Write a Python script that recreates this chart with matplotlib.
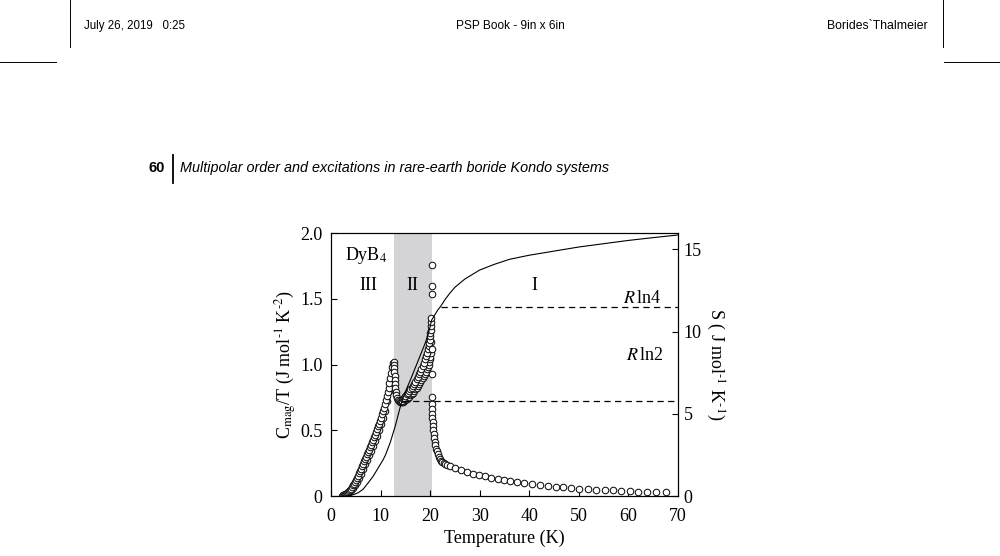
import matplotlib
matplotlib.use('Agg')
import matplotlib.pyplot as plt
from matplotlib.lines import Line2D

plt.rcParams['font.family'] = ['Liberation Serif', 'DejaVu Serif']
plt.rcParams['mathtext.fontset'] = 'stix'

# %% data
# C_mag/T open circles, rising part below the first transition (two runs)
t_rise = [2.2, 2.4, 2.6, 2.8, 3.0, 3.2, 3.4, 3.6, 3.8, 4.0, 4.2, 4.4, 4.6, 4.8,
          5.0, 5.2, 5.4, 5.6, 5.8, 6.0, 6.2, 6.4, 6.6, 6.8, 7.0, 7.2, 7.4, 7.6,
          7.8, 8.0, 8.2, 8.4, 8.6, 8.8, 9.0, 9.2, 9.4, 9.6, 9.8, 10.0, 10.2,
          10.4, 10.6, 10.8, 11.0, 11.2, 11.4, 11.6, 11.8, 12.0, 12.2, 12.4,
          12.55, 12.7]
c_rise = [0.003, 0.005, 0.008, 0.012, 0.017, 0.023, 0.030, 0.038, 0.047, 0.057,
          0.068, 0.080, 0.093, 0.107, 0.122, 0.138, 0.155, 0.173, 0.191, 0.209,
          0.227, 0.245, 0.263, 0.281, 0.299, 0.317, 0.335, 0.353, 0.371, 0.389,
          0.408, 0.427, 0.446, 0.466, 0.486, 0.507, 0.529, 0.551, 0.574, 0.597,
          0.621, 0.646, 0.672, 0.699, 0.727, 0.757, 0.789, 0.823, 0.859, 0.897,
          0.937, 0.978, 1.010, 1.020]
t_rise2 = [2.5, 2.9, 3.3, 3.7, 4.1, 4.5, 4.9, 5.3, 5.7, 6.1, 6.5, 6.9, 7.3, 7.7,
           8.1, 8.5, 8.9, 9.3, 9.7, 10.1, 10.5, 10.9, 11.3, 11.7, 12.1, 12.45]
c_rise2 = [0.004, 0.009, 0.018, 0.030, 0.046, 0.064, 0.086, 0.11, 0.14, 0.17,
           0.205, 0.24, 0.275, 0.31, 0.345, 0.38, 0.42, 0.46, 0.50, 0.545,
           0.595, 0.65, 0.72, 0.80, 0.89, 0.98]

# drop after the 12.7 K peak
t_drop = [12.75, 12.78, 12.8, 12.85, 12.9, 12.95, 13.0, 13.1, 13.2, 13.35,
          13.5, 13.7, 13.9, 14.1]
c_drop = [1.00, 0.97, 0.94, 0.91, 0.88, 0.85, 0.82, 0.79, 0.765, 0.745,
          0.73, 0.72, 0.715, 0.715]

# phase II, two chains of points
t_up = [14.25, 14.5, 14.75, 15.0, 15.25, 15.5, 15.75, 16.0, 16.25, 16.5,
        16.75, 17.0, 17.25, 17.5, 17.75, 18.0, 18.25, 18.5, 18.75, 19.0,
        19.2, 19.4, 19.55, 19.7, 19.8, 19.9, 20.0, 20.05, 20.1, 20.15, 20.2,
        20.25]
c_up = [0.725, 0.735, 0.748, 0.76, 0.772, 0.785, 0.797, 0.81, 0.825, 0.84,
        0.855, 0.87, 0.887, 0.905, 0.925, 0.945, 0.967, 0.99, 1.015, 1.04,
        1.065, 1.09, 1.115, 1.14, 1.165, 1.19, 1.215, 1.24, 1.265, 1.29, 1.32,
        1.35]
t_low = [14.25, 14.5, 14.75, 15.0, 15.25, 15.5, 15.75, 16.0, 16.25, 16.5,
         16.75, 17.0, 17.25, 17.5, 17.75, 18.0, 18.25, 18.5, 18.75, 19.0,
         19.2, 19.4, 19.55, 19.7, 19.8, 19.9, 20.0, 20.1, 20.2, 20.25]
c_low = [0.712, 0.718, 0.724, 0.73, 0.737, 0.745, 0.755, 0.765, 0.775, 0.785,
         0.797, 0.81, 0.822, 0.835, 0.85, 0.865, 0.88, 0.895, 0.912, 0.93,
         0.945, 0.965, 0.98, 1.0, 1.02, 1.04, 1.06, 1.085, 1.12, 1.17]

# around and above the 20.3 K transition
t_high = [20.3, 20.3, 20.3, 20.4, 20.4, 20.35, 20.35, 20.4, 20.4, 20.45, 20.5,
          20.55, 20.6, 20.7, 20.8, 20.9, 21.0, 21.15, 21.3, 21.5, 21.7, 21.9,
          22.1, 22.4, 22.7, 23.0, 23.4, 24.0, 25.0, 26.2, 27.4, 28.6, 29.8,
          31.0, 32.3, 33.6, 34.9, 36.2, 37.6, 39.0, 40.5, 42.1, 43.7, 45.3,
          46.9, 48.5, 50.1, 51.8, 53.5, 55.2, 56.9, 58.6, 60.3, 62.0, 63.7,
          65.5, 67.6]
c_high = [1.76, 1.60, 1.535, 1.12, 0.93, 0.75, 0.70, 0.66, 0.62, 0.59, 0.56,
          0.53, 0.50, 0.47, 0.44, 0.41, 0.385, 0.36, 0.34, 0.32, 0.30, 0.285,
          0.27, 0.26, 0.25, 0.245, 0.238, 0.232, 0.21, 0.195, 0.18, 0.17, 0.16,
          0.15, 0.14, 0.13, 0.12, 0.113, 0.107, 0.10, 0.09, 0.083, 0.077,
          0.071, 0.066, 0.061, 0.056, 0.052, 0.048, 0.045, 0.042, 0.039, 0.036,
          0.034, 0.032, 0.030, 0.028]

# entropy S (right axis), solid line
t_s = [2.8, 3.5, 4.5, 5.5, 6.5, 7.5, 8.5, 9.5, 10.5, 11.0, 12.0, 13.0, 14.0,
       14.3, 15.0, 16.0, 17.0, 18.0, 19.0, 19.6, 20.0, 20.3, 20.8, 21.5, 22.1,
       23.0, 24.0, 25.0, 27.0, 30.0, 33.0, 36.0, 40.0, 45.0, 50.0, 55.0, 60.0,
       65.0, 70.0]
s_val = [0.0, 0.02, 0.08, 0.2, 0.42, 0.8, 1.2, 1.7, 2.2, 2.5, 3.3, 4.3, 5.45,
         5.76, 6.35, 7.05, 7.8, 8.55, 9.3, 9.85, 10.3, 10.7, 10.95, 11.3, 11.53,
         11.95, 12.35, 12.7, 13.2, 13.75, 14.1, 14.4, 14.65, 14.9, 15.15, 15.35,
         15.55, 15.72, 15.88]

r_ln2 = 5.763
r_ln4 = 11.526
ln2_start = 14.3
ln4_start = 22.1
phase2 = (12.7, 20.3)

x_ticks = [0, 10, 20, 30, 40, 50, 60, 70]
x_labels = ['0', '10', '20', '30', '40', '50', '60', '70']
y_ticks = [0, 0.5, 1.0, 1.5, 2.0]
y_labels = ['0', '0.5', '1.0', '1.5', '2.0']
s_ticks = [0, 5, 10, 15]
s_labels = ['0', '5', '10', '15']

# %% figure
fig = plt.figure(figsize=(10, 5.56), dpi=100)

# page header
sans = ['Liberation Sans', 'DejaVu Sans']
fig.text(0.084, 0.953, 'July 26, 2019   0:25', family=sans, fontsize=8.3, va='center')
fig.text(0.510, 0.953, 'PSP Book - 9in x 6in', family=sans, fontsize=8.6, va='center', ha='center')
fig.text(0.928, 0.953, 'Borides`Thalmeier', family=sans, fontsize=8.8, va='center', ha='right')
for xl in (0.070, 0.943):
    fig.add_artist(Line2D([xl, xl], [1.0, 0.915], color='k', lw=0.7))
fig.add_artist(Line2D([0.0, 0.056], [0.888, 0.888], color='k', lw=0.7))
fig.add_artist(Line2D([0.944, 1.0], [0.888, 0.888], color='k', lw=0.7))
fig.text(0.165, 0.698, '60', family=sans, fontsize=10.5, weight='bold', va='center', ha='right')
fig.add_artist(Line2D([0.173, 0.173], [0.722, 0.670], color='k', lw=1.3))
fig.text(0.180, 0.698, 'Multipolar order and excitations in rare-earth boride Kondo systems',
         family=sans, fontsize=10.4, style='italic', va='center')

ax = fig.add_axes([0.331, 0.1079, 0.347, 0.4730])
ax2 = ax.twinx()

ax.axvspan(phase2[0], phase2[1], color='#d4d4d6', lw=0, zorder=0)

mk = dict(ls='none', marker='o', ms=4.7, mfc='white', mec='#111111', mew=0.75)
ax.plot(t_rise2, c_rise2, **mk)
ax.plot(t_rise, c_rise, **mk)
ax.plot(t_drop, c_drop, **mk)
ax.plot(t_low, c_low, **mk)
ax.plot(t_up, c_up, **mk)
ax.plot(t_high, c_high, **mk)

ax2.plot(t_s, s_val, color='k', lw=0.8)
ax2.plot([ln2_start, 70], [r_ln2, r_ln2], color='k', lw=0.9, ls=(0, (5, 3.5)))
ax2.plot([ln4_start, 70], [r_ln4, r_ln4], color='k', lw=0.9, ls=(0, (5, 3.5)))

ax.set_xlim(0, 70)
ax.set_ylim(0, 2.0)
ax2.set_ylim(0, 16)

ax.set_xticks(x_ticks)
ax.set_xticklabels(x_labels)
ax.set_yticks(y_ticks)
ax.set_yticklabels(y_labels)
ax2.set_yticks(s_ticks)
ax2.set_yticklabels(s_labels)

for a in (ax, ax2):
    a.tick_params(direction='in', length=4, width=0.8, labelsize=13, pad=4)
    for sp in a.spines.values():
        sp.set_linewidth(0.8)
ax.tick_params(axis='x', pad=8.3)
ax.tick_params(axis='y', pad=6)

ax.set_xlabel('Temperature (K)', fontsize=13, labelpad=4)
ax.set_ylabel(r'C$_{\rm mag}$/T (J mol$^{\text{-1}}$ K$^{\text{-2}}$)', fontsize=13, labelpad=1)
ax2.set_ylabel(r'S ( J mol$^{\text{-1}}$ K$^{\text{-1}}$)', fontsize=13, rotation=-90,
               labelpad=18)

ax.text(2.8, 1.83, r'DyB$_4$', fontsize=13, va='center')
ax.text(7.6, 1.6, 'III', fontsize=13, va='center', ha='center')
ax.text(16.4, 1.6, 'II', fontsize=13, va='center', ha='center')
ax.text(41.0, 1.6, 'I', fontsize=13, va='center', ha='center')
ax.text(66.5, 1.50, r'$R\,$ln4', fontsize=13, va='center', ha='right')
ax.text(67.0, 1.07, r'$R\,$ln2', fontsize=13, va='center', ha='right')

fig.savefig('out.png', dpi=100)
